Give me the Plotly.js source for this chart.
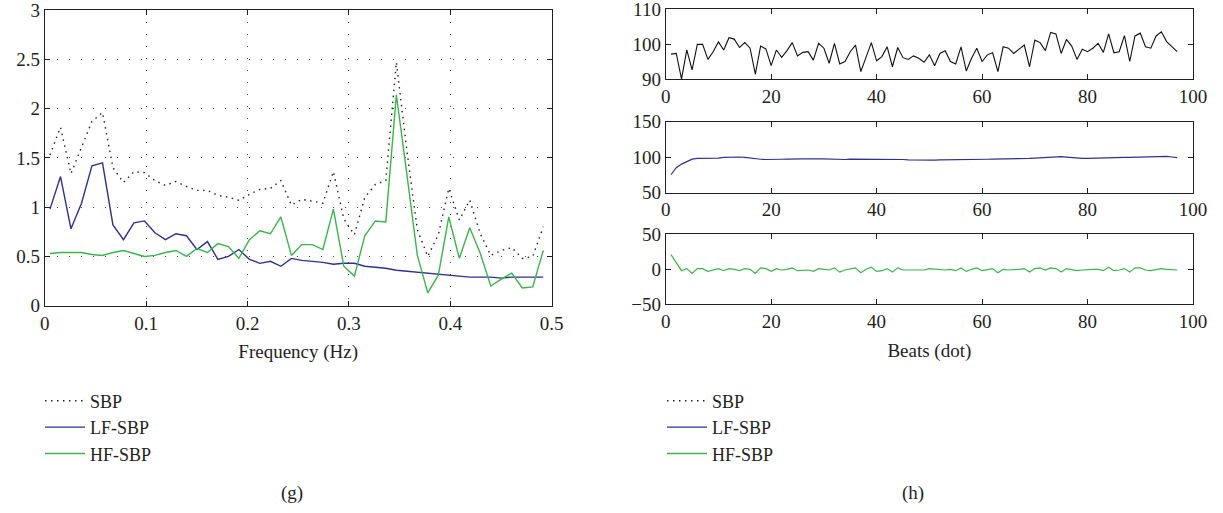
<!DOCTYPE html>
<html><head><meta charset="utf-8">
<script src="https://cdn.plot.ly/plotly-3.0.1.min.js"></script>
<style>html,body{margin:0;padding:0;background:#fff}#chart{width:1223px;height:513px}</style>
</head><body><div id="chart"></div>
<script>
// ---- (g) spectra ----
const freqHz = [0.0052,0.0156,0.0259,0.0363,0.0466,0.0570,0.0673,0.0777,0.0880,0.0984,
  0.1087,0.1191,0.1294,0.1398,0.1501,0.1605,0.1708,0.1812,0.1915,0.2019,
  0.2122,0.2226,0.2329,0.2433,0.2536,0.2640,0.2743,0.2847,0.2950,0.3054,
  0.3157,0.3261,0.3364,0.3468,0.3571,0.3675,0.3778,0.3882,0.3985,0.4089,
  0.4192,0.4296,0.4399,0.4503,0.4606,0.4710,0.4813,0.4917];
const specSBP = [1.53,1.81,1.34,1.60,1.87,1.96,1.40,1.25,1.36,1.35,
  1.27,1.22,1.26,1.21,1.17,1.17,1.12,1.10,1.07,1.13,
  1.18,1.19,1.27,1.02,1.08,1.06,1.04,1.36,0.88,0.72,
  1.10,1.23,1.27,2.47,1.58,0.77,0.50,0.72,1.19,0.87,
  1.07,0.73,0.51,0.56,0.59,0.48,0.50,0.80];
const specLF = [0.98,1.31,0.78,1.04,1.42,1.45,0.82,0.67,0.84,0.86,
  0.74,0.67,0.73,0.71,0.57,0.65,0.47,0.50,0.57,0.47,
  0.43,0.45,0.40,0.48,0.46,0.45,0.44,0.42,0.43,0.43,
  0.40,0.39,0.38,0.36,0.35,0.34,0.33,0.32,0.31,0.30,
  0.29,0.29,0.29,0.28,0.29,0.29,0.29,0.29];
const specHF = [0.53,0.54,0.54,0.54,0.52,0.51,0.54,0.56,0.53,0.50,
  0.51,0.54,0.56,0.50,0.58,0.54,0.63,0.60,0.48,0.67,
  0.76,0.73,0.90,0.51,0.62,0.62,0.57,0.98,0.40,0.30,
  0.71,0.86,0.85,2.14,1.34,0.51,0.13,0.31,0.90,0.48,
  0.79,0.53,0.20,0.27,0.33,0.18,0.19,0.56];

// ---- (h) beat series ----
const beats = [1,2,3,4,5,6,7,8,9,10,11,12,13,14,15,16,17,18,19,20,
  21,22,23,24,25,26,27,28,29,30,31,32,33,34,35,36,37,38,39,40,
  41,42,43,44,45,46,47,48,49,50,51,52,53,54,55,56,57,58,59,60,
  61,62,63,64,65,66,67,68,69,70,71,72,73,74,75,76,77,78,79,80,
  81,82,83,84,85,86,87,88,89,90,91,92,93,94,95,96,97];
const beatSBP = [97.1,97.3,90.0,98.3,92.6,99.9,99.9,95.6,97.8,100.6,
  98.3,101.8,101.4,99.0,100.4,98.8,91.4,99.4,98.6,93.8,
  98.3,96.2,98.1,100.4,96.6,97.6,97.8,95.4,100.2,98.8,
  94.5,100.2,94.3,95.0,97.8,99.7,92.1,96.4,100.4,95.2,
  96.4,99.2,93.5,99.0,96.1,95.6,96.6,95.9,94.8,96.9,
  93.8,97.3,98.1,95.0,94.3,99.2,92.3,95.9,98.8,95.0,
  96.9,97.5,92.1,99.2,98.8,97.3,98.5,99.7,93.5,101.1,
  100.4,98.1,103.3,102.9,97.3,101.3,99.4,95.6,98.5,97.8,
  98.8,100.2,97.6,102.9,97.5,97.8,102.4,95.0,102.3,103.1,
  99.2,98.8,102.3,103.5,100.7,99.2,97.8];
const beatLF = [75,85,90,94,97,98,98,97.5,98,98.5,
  99.5,100,100.2,100,99.5,98.5,97,96.8,96.5,96.3,
  96.5,96.8,97,97.5,97.5,97.5,97.3,97,97.5,97.5,
  97,97,96.5,96.5,97,97,96.8,97,97.3,97,
  97,97,96.8,96.8,96.5,96,95.8,95.5,95.5,95.5,
  95.5,96,96,96,96,96,95.8,96,96.5,96.5,
  96.8,97,97,97,97.3,97.5,97.8,98,98,98.5,
  99,99.5,100.5,101,100.5,99.8,99,98,98,98.2,
  98.5,98.8,99,99.5,99.5,99.5,99.5,99.5,99.8,100,
  100.3,100.8,101,101.5,101,100,99];
const beatHF = [21,10,-2,1,-6,1,1,-3,-1,1,
  -2,1,0,-2,1,0,-6,2,1,-3,
  1,-1,0,2,-2,-1,-1,-3,1,0,
  -1,2,-4,-1,0,2,-5,0,3,-3,
  -2,1,-4,2,-1,-1,0,0,-1,1,
  0,-1,-1,0,-2,2,-3,0,2,-2,
  0,1,-5,0,-1,-1,0,1,-4,1,
  2,-1,2,1,-4,1,-1,-2,-1,0,
  0,0,-2,3,-2,-1,1,-4,2,2,
  -1,-2,-1,1,0,-1,-1];

const seriesNames = ['SBP','LF-SBP','HF-SBP'];
const xTicksG = [0,0.1,0.2,0.3,0.4,0.5];
const xLabelsG = ['0','0.1','0.2','0.3','0.4','0.5'];
const yTicksG = [0,0.5,1,1.5,2,2.5,3];
const yLabelsG = ['0','0.5','1','1.5','2','2.5','3'];
const xTicksH = [0,20,40,60,80,100];

const FONT = 'Liberation Serif, Times New Roman, serif';
const TXT = '#231f20';
const AX = '#231f20';
const BLUE = '#2e3192';
const GREEN = '#39b54a';
const W = 1223, H = 513;
const px = v => v / W;
const py = v => 1 - v / H;

function ax(extra) {
  return Object.assign({
    showline: true, linecolor: AX, linewidth: 1, mirror: 'ticks',
    ticks: 'inside', ticklen: 5, tickcolor: AX, tickwidth: 1,
    zeroline: false, showgrid: false, fixedrange: true,
    ticklabeloverflow: 'allow',
    tickfont: {family: FONT, size: 19, color: TXT}
  }, extra);
}

const traces = [
  {x: freqHz, y: specSBP, name: seriesNames[0], type: 'scatter', mode: 'lines',
   line: {color: '#222', width: 1.4, dash: '1.5px,4.5px'}, xaxis: 'x', yaxis: 'y', legend: 'legend'},
  {x: freqHz, y: specLF, name: seriesNames[1], type: 'scatter', mode: 'lines',
   line: {color: BLUE, width: 1.4}, xaxis: 'x', yaxis: 'y', legend: 'legend'},
  {x: freqHz, y: specHF, name: seriesNames[2], type: 'scatter', mode: 'lines',
   line: {color: GREEN, width: 1.4}, xaxis: 'x', yaxis: 'y', legend: 'legend'},
  {x: beats, y: beatSBP, name: seriesNames[0], type: 'scatter', mode: 'lines',
   line: {color: '#111', width: 1.1}, xaxis: 'x2', yaxis: 'y2', showlegend: false},
  {x: beats, y: beatLF, name: seriesNames[1], type: 'scatter', mode: 'lines',
   line: {color: BLUE, width: 1.2}, xaxis: 'x3', yaxis: 'y3', showlegend: false},
  {x: beats, y: beatHF, name: seriesNames[2], type: 'scatter', mode: 'lines',
   line: {color: GREEN, width: 1.2}, xaxis: 'x4', yaxis: 'y4', showlegend: false},
  // legend entries for panel (h)
  {x: [null], y: [null], name: seriesNames[0], type: 'scatter', mode: 'lines',
   line: {color: '#222', width: 1.4, dash: '1.5px,4.5px'}, xaxis: 'x2', yaxis: 'y2', legend: 'legend2'},
  {x: [null], y: [null], name: seriesNames[1], type: 'scatter', mode: 'lines',
   line: {color: BLUE, width: 1.4}, xaxis: 'x2', yaxis: 'y2', legend: 'legend2'},
  {x: [null], y: [null], name: seriesNames[2], type: 'scatter', mode: 'lines',
   line: {color: GREEN, width: 1.4}, xaxis: 'x2', yaxis: 'y2', legend: 'legend2'}
];

const legendBase = {
  orientation: 'v', xanchor: 'left', yanchor: 'top',
  bgcolor: 'rgba(0,0,0,0)', borderwidth: 0, itemwidth: 40,
  font: {family: FONT, size: 18, color: TXT}, traceorder: 'normal'
};

const layout = {
  width: W, height: H,
  margin: {l: 0, r: 0, t: 0, b: 0},
  paper_bgcolor: '#fff', plot_bgcolor: '#fff',
  font: {family: FONT, size: 19, color: TXT},
  xaxis: ax({domain: [px(44.7), px(551.7)], range: [0, 0.5], tickvals: xTicksG, ticktext: xLabelsG,
    showgrid: true, gridcolor: '#444', gridwidth: 1, griddash: '1px,11px', anchor: 'y',
    title: {text: 'Frequency (Hz)', font: {family: FONT, size: 19, color: TXT}, standoff: 12}}),
  yaxis: ax({domain: [py(305.7), py(10)], range: [0, 3], tickvals: yTicksG, ticktext: yLabelsG,
    showgrid: true, gridcolor: '#444', gridwidth: 1, griddash: '1px,11px', anchor: 'x'}),
  xaxis2: ax({domain: [px(665.7), px(1193)], range: [0, 100], tickvals: xTicksH, anchor: 'y2'}),
  yaxis2: ax({domain: [py(79), py(9)], range: [90, 110], tickvals: [90, 100, 110], anchor: 'x2'}),
  xaxis3: ax({domain: [px(665.7), px(1193)], range: [0, 100], tickvals: xTicksH, anchor: 'y3'}),
  yaxis3: ax({domain: [py(192.5), py(121.5)], range: [50, 150], tickvals: [50, 100, 150], anchor: 'x3'}),
  xaxis4: ax({domain: [px(665.7), px(1193)], range: [0, 100], tickvals: xTicksH, anchor: 'y4',
    title: {text: 'Beats (dot)', font: {family: FONT, size: 19, color: TXT}, standoff: 12}}),
  yaxis4: ax({domain: [py(304.3), py(234.3)], range: [-50, 50], tickvals: [-50, 0, 50], anchor: 'x4'}),
  legend: Object.assign({}, legendBase, {x: px(40), y: py(382.5)}),
  legend2: Object.assign({}, legendBase, {x: px(662), y: py(382.5)}),
  annotations: [
    {text: '(g)', x: px(292), y: py(493), xref: 'paper', yref: 'paper', showarrow: false,
     xanchor: 'center', yanchor: 'middle', font: {family: FONT, size: 19, color: TXT}},
    {text: '(h)', x: px(913), y: py(493), xref: 'paper', yref: 'paper', showarrow: false,
     xanchor: 'center', yanchor: 'middle', font: {family: FONT, size: 19, color: TXT}}
  ],
  showlegend: true
};

Plotly.newPlot('chart', traces, layout, {displayModeBar: false, staticPlot: true});
</script>
</body></html>
